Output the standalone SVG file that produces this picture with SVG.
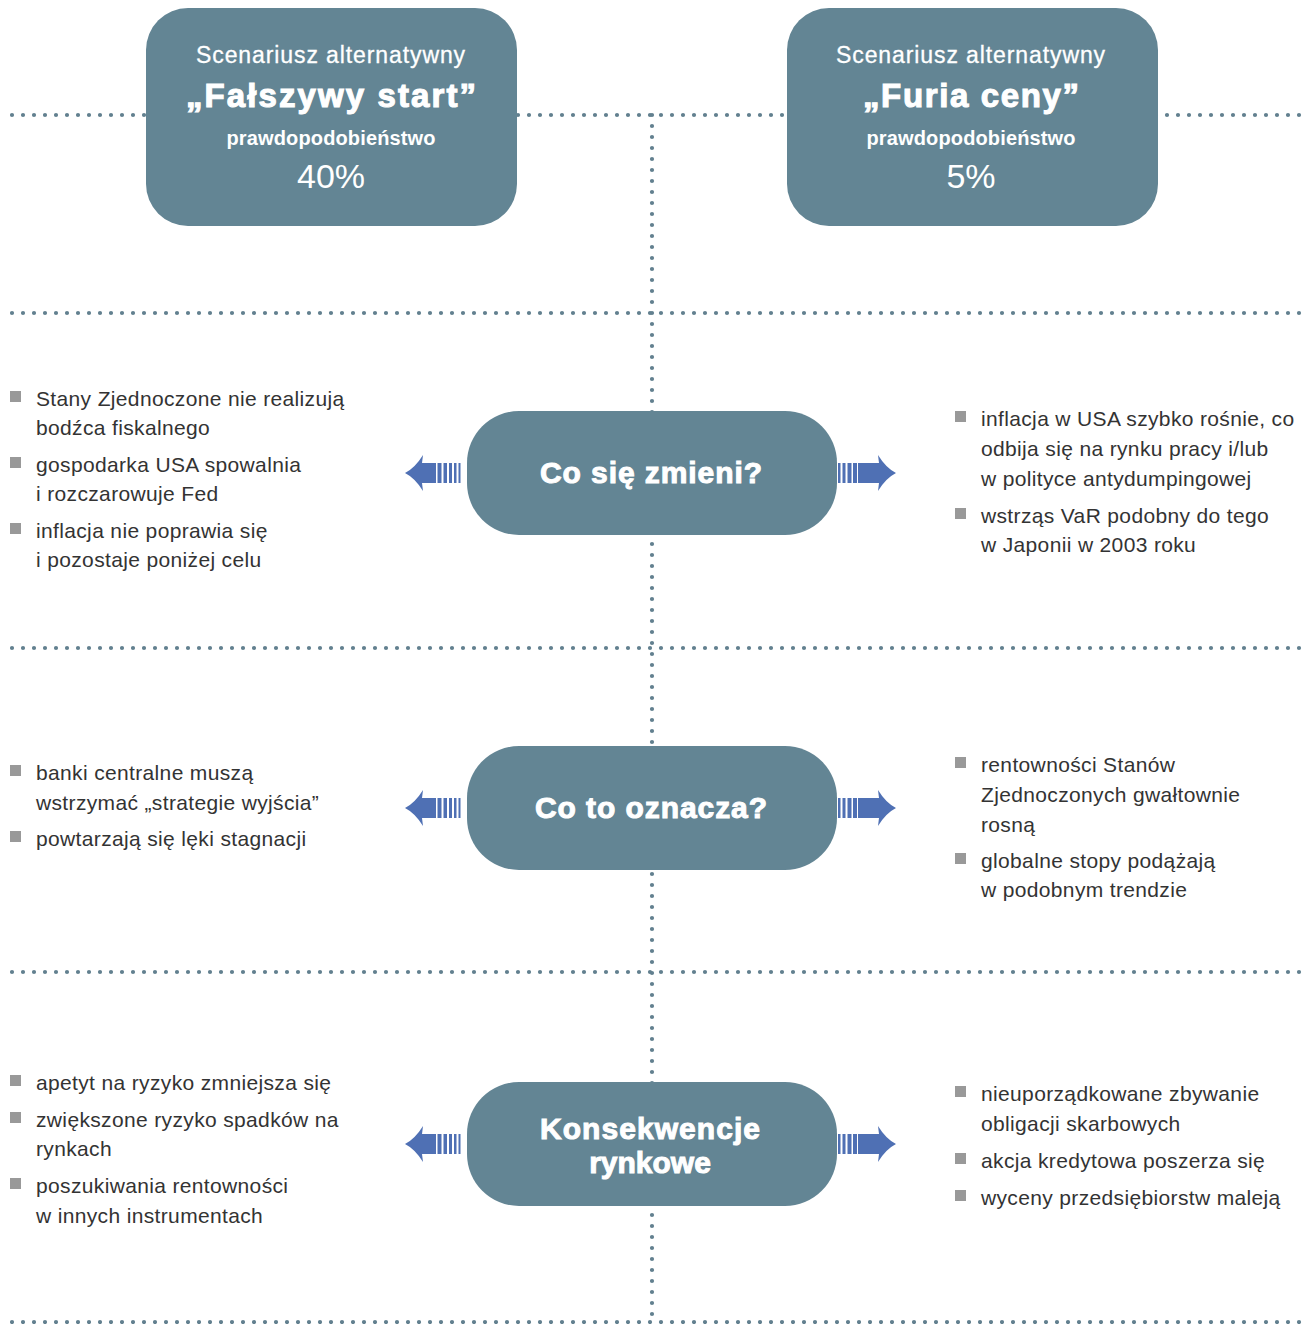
<svg xmlns="http://www.w3.org/2000/svg" xmlns:xlink="http://www.w3.org/1999/xlink" width="1304" height="1324" viewBox="0 0 1304 1324">
<style>
.dot{stroke:#62808f;stroke-width:4.2;stroke-linecap:round;stroke-dasharray:0 11;fill:none}
.box{fill:#638594}
.wt{fill:#fff;font-family:"Liberation Sans",Arial,sans-serif;text-anchor:middle}
.sub{font-size:23px;letter-spacing:0.9px;stroke:#fff;stroke-width:0.3}
.ttl{font-size:33px;font-weight:bold;stroke:#fff;stroke-width:1.1}
.prob{font-size:20px;font-weight:bold}
.pct{font-size:34px}
.q{font-size:30px;font-weight:bold;stroke:#fff;stroke-width:1}
.bt{fill:#333;font-family:"Liberation Sans",Arial,sans-serif;font-size:21px;letter-spacing:0.35px}
.sq{fill:#999}
.arr{fill:#4f70b4}
</style>
<defs>
<g id="arrL">
<path d="M405,0 Q415,-5 423,-18 L422,-10 L436,-10 L436,10 L422,10 L423,18 Q415,5 405,0 Z"/>
<rect x="437.5" y="-10" width="4" height="20"/>
<rect x="443.5" y="-10" width="3.5" height="20"/>
<rect x="449" y="-10" width="3" height="20"/>
<rect x="454" y="-10" width="2.5" height="20"/>
<rect x="458.5" y="-10" width="2" height="20"/>
</g>
<g id="arrR">
<path d="M896,0 Q886,-5 878,-18 L879,-10 L858,-10 L858,10 L879,10 L878,18 Q886,5 896,0 Z"/>
<rect x="853" y="-10" width="4" height="20"/>
<rect x="847.5" y="-10" width="4" height="20"/>
<rect x="842.5" y="-10" width="3" height="20"/>
<rect x="838" y="-10" width="2.5" height="20"/>
</g>
</defs>
<rect width="1304" height="1324" fill="#fff"/>
<g id="connectors">
<line class="dot" x1="12" y1="115" x2="1300" y2="115"/>
<line class="dot" x1="12" y1="313" x2="1300" y2="313"/>
<line class="dot" x1="12" y1="648" x2="1300" y2="648"/>
<line class="dot" x1="12" y1="972" x2="1300" y2="972"/>
<line class="dot" x1="12" y1="1322" x2="1300" y2="1322"/>
<line class="dot" x1="652" y1="115" x2="652" y2="1324"/>
<g class="arr">
<use xlink:href="#arrL" transform="translate(0,473)"/>
<use xlink:href="#arrR" transform="translate(0,473)"/>
<use xlink:href="#arrL" transform="translate(0,808)"/>
<use xlink:href="#arrR" transform="translate(0,808)"/>
<use xlink:href="#arrL" transform="translate(0,1144)"/>
<use xlink:href="#arrR" transform="translate(0,1144)"/>
</g>
</g>
<g id="scenario-false-start">
<rect class="box" x="146" y="8" width="371" height="218" rx="42"/>
<text class="wt sub" x="331" y="63">Scenariusz alternatywny</text>
<text class="wt ttl" x="331" y="107" textLength="290" lengthAdjust="spacing">„Fałszywy start”</text>
<text class="wt prob" x="331" y="145" textLength="209" lengthAdjust="spacing">prawdopodobieństwo</text>
<text class="wt pct" x="331" y="188">40%</text>
</g>
<g id="scenario-price-fury">
<rect class="box" x="787" y="8" width="371" height="218" rx="42"/>
<text class="wt sub" x="971" y="63">Scenariusz alternatywny</text>
<text class="wt ttl" x="971" y="107" textLength="216" lengthAdjust="spacing">„Furia ceny”</text>
<text class="wt prob" x="971" y="145" textLength="209" lengthAdjust="spacing">prawdopodobieństwo</text>
<text class="wt pct" x="971" y="188">5%</text>
</g>
<g id="what-changes">
<rect class="box" x="467" y="411" width="370" height="124" rx="52"/>
<text class="wt q" x="651" y="483" textLength="222" lengthAdjust="spacing">Co się zmieni?</text>
</g>
<g id="what-it-means">
<rect class="box" x="467" y="746" width="370" height="124" rx="52"/>
<text class="wt q" x="651" y="818" textLength="232" lengthAdjust="spacing">Co to oznacza?</text>
</g>
<g id="market-consequences">
<rect class="box" x="467" y="1082" width="370" height="124" rx="52"/>
<text class="wt q" x="650" y="1139" textLength="220" lengthAdjust="spacing">Konsekwencje</text>
<text class="wt q" x="650" y="1173">rynkowe</text>
</g>
<g id="left-changes">
<rect class="sq" x="10" y="391" width="11" height="11"/>
<text class="bt" x="36" y="406">Stany Zjednoczone nie realizują</text>
<text class="bt" x="36" y="435">bodźca fiskalnego</text>
<rect class="sq" x="10" y="457" width="11" height="11"/>
<text class="bt" x="36" y="472">gospodarka USA spowalnia</text>
<text class="bt" x="36" y="501">i rozczarowuje Fed</text>
<rect class="sq" x="10" y="523" width="11" height="11"/>
<text class="bt" x="36" y="538">inflacja nie poprawia się</text>
<text class="bt" x="36" y="567">i pozostaje poniżej celu</text>
</g>
<g id="right-changes">
<rect class="sq" x="955" y="411" width="11" height="11"/>
<text class="bt" x="981" y="426">inflacja w USA szybko rośnie, co</text>
<text class="bt" x="981" y="456">odbija się na rynku pracy i/lub</text>
<text class="bt" x="981" y="486">w polityce antydumpingowej</text>
<rect class="sq" x="955" y="508" width="11" height="11"/>
<text class="bt" x="981" y="523">wstrząs VaR podobny do tego</text>
<text class="bt" x="981" y="552">w Japonii w 2003 roku</text>
</g>
<g id="left-means">
<rect class="sq" x="10" y="765" width="11" height="11"/>
<text class="bt" x="36" y="780">banki centralne muszą</text>
<text class="bt" x="36" y="810">wstrzymać „strategie wyjścia”</text>
<rect class="sq" x="10" y="831" width="11" height="11"/>
<text class="bt" x="36" y="846">powtarzają się lęki stagnacji</text>
</g>
<g id="right-means">
<rect class="sq" x="955" y="757" width="11" height="11"/>
<text class="bt" x="981" y="772">rentowności Stanów</text>
<text class="bt" x="981" y="802">Zjednoczonych gwałtownie</text>
<text class="bt" x="981" y="832">rosną</text>
<rect class="sq" x="955" y="853" width="11" height="11"/>
<text class="bt" x="981" y="868">globalne stopy podążają</text>
<text class="bt" x="981" y="897">w podobnym trendzie</text>
</g>
<g id="left-consequences">
<rect class="sq" x="10" y="1075" width="11" height="11"/>
<text class="bt" x="36" y="1090">apetyt na ryzyko zmniejsza się</text>
<rect class="sq" x="10" y="1112" width="11" height="11"/>
<text class="bt" x="36" y="1127">zwiększone ryzyko spadków na</text>
<text class="bt" x="36" y="1156">rynkach</text>
<rect class="sq" x="10" y="1178" width="11" height="11"/>
<text class="bt" x="36" y="1193">poszukiwania rentowności</text>
<text class="bt" x="36" y="1223">w innych instrumentach</text>
</g>
<g id="right-consequences">
<rect class="sq" x="955" y="1086" width="11" height="11"/>
<text class="bt" x="981" y="1101">nieuporządkowane zbywanie</text>
<text class="bt" x="981" y="1131">obligacji skarbowych</text>
<rect class="sq" x="955" y="1153" width="11" height="11"/>
<text class="bt" x="981" y="1168">akcja kredytowa poszerza się</text>
<rect class="sq" x="955" y="1190" width="11" height="11"/>
<text class="bt" x="981" y="1205">wyceny przedsiębiorstw maleją</text>
</g>
</svg>
